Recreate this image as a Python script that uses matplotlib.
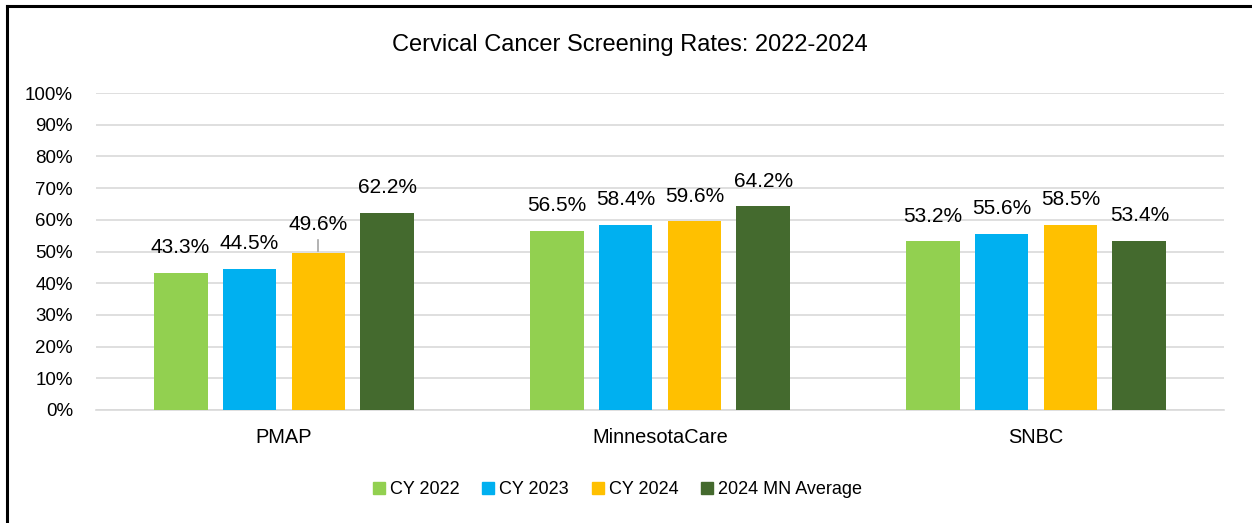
import numpy as np
import matplotlib.pyplot as plt
from matplotlib.lines import Line2D

plt.rcParams['font.family'] = ['Liberation Sans Narrow', 'Liberation Sans', 'DejaVu Sans']

categories = ["PMAP", "MinnesotaCare", "SNBC"]
series = ["CY 2022", "CY 2023", "CY 2024", "2024 MN Average"]
cy2022 = [43.3, 56.5, 53.2]
cy2023 = [44.5, 58.4, 55.6]
cy2024 = [49.6, 59.6, 58.5]
mn_avg = [62.2, 64.2, 53.4]
values = [cy2022, cy2023, cy2024, mn_avg]
colors = ["#92D050", "#00B0F0", "#FFC000", "#446A2E"]

fig = plt.figure(figsize=(12.52, 5.23), dpi=100)
ax = fig.add_axes([96 / 1252, 1 - 410 / 523, (1224 - 96) / 1252, (410 - 93) / 523])

x = np.arange(len(categories))
step = 0.1835
width = 0.1436
for i, (vals, col, name) in enumerate(zip(values, colors, series)):
    pos = x + (i - 1.5) * step
    ax.bar(pos, vals, width=width, color=col, label=name, zorder=3)
    for j, (p, v) in enumerate(zip(pos, vals)):
        if i == 2 and j == 0:
            # label pushed up with a leader line
            ax.annotate("", xy=(p, v), xytext=(0, 1), textcoords="offset points")
            ax.plot([p, p], [v + 0.5, v + 4.0], color="#A6A6A6", lw=1.2, zorder=4)
            ax.annotate(f"{v:.1f}%", xy=(p, v), xytext=(0, 20), textcoords="offset points",
                        ha="center", va="center", fontsize=15)
        else:
            ax.annotate(f"{v:.1f}%", xy=(p, v), xytext=(0, 18), textcoords="offset points",
                        ha="center", va="center", fontsize=15)

ax.set_xlim(-0.5, 2.5)
ax.set_ylim(0, 100)
ax.set_yticks(range(0, 101, 10))
ax.set_yticklabels([f"{t}%" for t in range(0, 101, 10)], fontsize=13.5)
ax.set_xticks(x)
ax.set_xticklabels(categories, fontsize=14.4)
ax.tick_params(axis="y", length=0, pad=16.5)
ax.tick_params(axis="x", length=0, pad=13)
ax.grid(axis="y", color="#D9D9D9", lw=1.2, zorder=0)
for sp in ["top", "right", "left"]:
    ax.spines[sp].set_visible(False)
ax.spines["bottom"].set_color("#D9D9D9")
ax.spines["bottom"].set_linewidth(1.2)

fig.text(630 / 1252, 1 - 45 / 523, "Cervical Cancer Screening Rates: 2022-2024",
         ha="center", va="center", fontsize=17)

handles = [Line2D([], [], marker="s", ls="", color=c, markersize=9) for c in colors]
fig.legend(handles, series, loc="center", bbox_to_anchor=(616 / 1252, 1 - 490 / 523),
           ncol=4, frameon=False, fontsize=13, handletextpad=0.1, columnspacing=1.1,
           handlelength=1.0)

# outer frame (left and top edges)
fig.add_artist(Line2D([7 / 1252, 7 / 1252], [0, 1 - 6 / 523], color="black", lw=2.2,
                      transform=fig.transFigure))
fig.add_artist(Line2D([7 / 1252, 1], [1 - 6 / 523, 1 - 6 / 523], color="black", lw=2.2,
                      transform=fig.transFigure))

fig.savefig("out.png", dpi=100, facecolor="white")
